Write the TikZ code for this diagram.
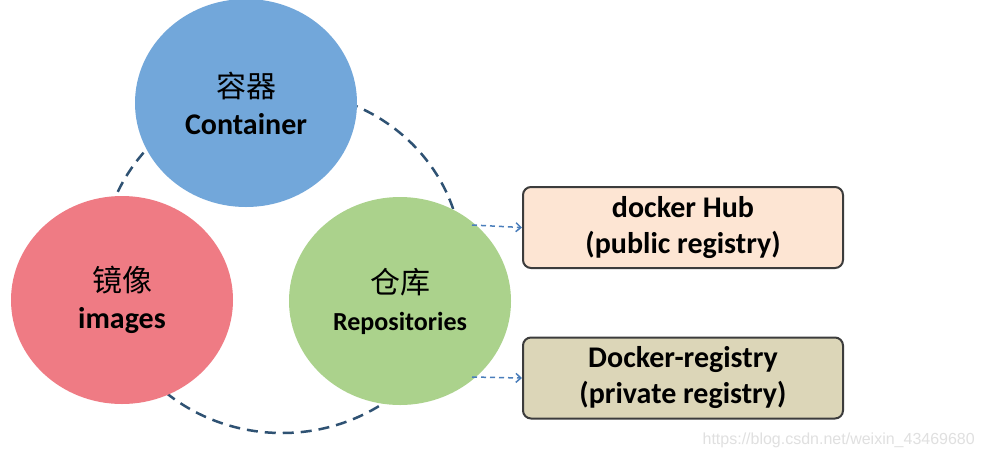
\documentclass[tikz,border=0pt]{standalone}
\usepackage{fontspec}
\setmainfont{Carlito}
\newfontfamily\cjk{Noto Sans CJK SC}
\newfontfamily\wmfont{Liberation Sans}
\usetikzlibrary{shapes.geometric,arrows.meta}
\definecolor{cblue}{HTML}{72A7DA}
\definecolor{cred}{HTML}{EF7B84}
\definecolor{cgreen}{HTML}{ABD28C}
\definecolor{cpeach}{HTML}{FDE5D3}
\definecolor{ctan}{HTML}{DCD6B8}
\definecolor{cborder}{HTML}{3C3C3C}
\definecolor{cdash}{HTML}{2F5273}
\definecolor{carrow}{HTML}{4A7EBB}
\begin{document}
\begin{tikzpicture}[x=1pt,y=-1pt,
  blob/.style={ellipse,inner sep=0pt,minimum width=222pt,minimum height=208pt,align=center,
    font=\fontsize{30}{37}\selectfont\bfseries},
  regbox/.style={draw=cborder,line width=2pt,rounded corners=8pt,minimum width=320pt,minimum height=81pt,
    align=center,font=\fontsize{30}{36}\selectfont\bfseries},
  linkarrow/.style={draw=carrow,line width=1.5pt,dash pattern=on 5pt off 4pt,-{Straight Barb[length=5pt,width=9pt]}},
  cycle/.style={draw=cdash,line width=2.5pt,dash pattern=on 11pt off 7pt}]
\useasboundingbox (0,0) rectangle (984,459);
\fill[white] (0,0) rectangle (984,459);
\draw[cycle] (282,262) ellipse [x radius=180pt, y radius=171pt];
\node[blob,fill=cblue] (container) at (246,103) {{\cjk\mdseries 容器}\\Container};
\node[blob,fill=cred] (images) at (122,300) {{\cjk\mdseries 镜像}\\images};
\node[blob,fill=cgreen] (repo) at (400,301) {{\cjk\mdseries\fontsize{30}{37}\selectfont 仓库}\\{\fontsize{26}{37}\selectfont Repositories}};
\node[regbox,fill=cpeach] (hub) at (683,227.5) {docker Hub\\(public registry)};
\node[regbox,fill=ctan] (priv) at (683,378) {Docker-registry\\(private registry)};
\path (repo) ++(72,-76) coordinate (a1) (repo) ++(72,76) coordinate (a2);
\draw[linkarrow] (a1) -- (hub.west);
\draw[linkarrow] (a2) -- (priv.west);
\node[font=\wmfont\fontsize{16}{19}\selectfont,text=black!12,anchor=east,inner sep=0pt] (wm) at (975,440) {https://blog.csdn.net/weixin\_43469680};
\end{tikzpicture}
\end{document}
